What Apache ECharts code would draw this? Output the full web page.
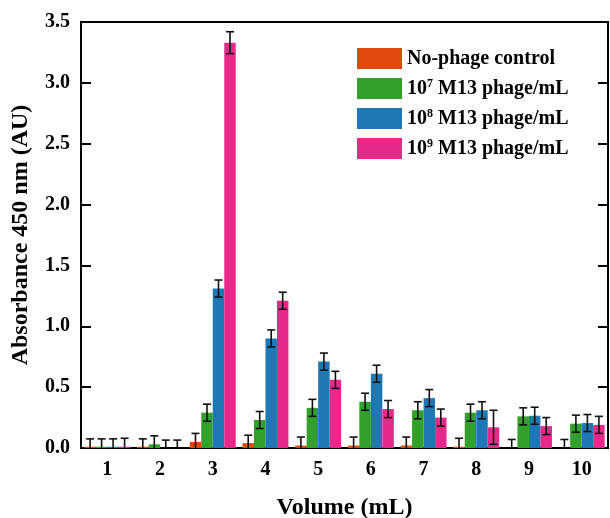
<!DOCTYPE html>
<html><head><meta charset="utf-8">
<script src="https://cdn.jsdelivr.net/npm/echarts@6/dist/echarts.min.js"></script>
<style>html,body{margin:0;padding:0;background:#fff}#c{width:610px;height:518px}</style>
</head><body><div id="c"></div>
<script>
var categories = ['1','2','3','4','5','6','7','8','9','10'];
var seriesNames = ['No-phage control','10^7 M13 phage/mL','10^8 M13 phage/mL','10^9 M13 phage/mL'];
var noPhage   = [0.01,0.01,0.05,0.04,0.02,0.02,0.02,0.01,0.00,0.00];
var phage1e7  = [0.01,0.03,0.29,0.23,0.33,0.38,0.31,0.29,0.26,0.20];
var phage1e8  = [0.01,0.00,1.31,0.90,0.71,0.61,0.41,0.31,0.265,0.205];
var phage1e9  = [0.01,0.00,3.33,1.21,0.56,0.32,0.25,0.17,0.18,0.19];
var errNoPhage  = [0.065,0.065,0.07,0.065,0.07,0.07,0.07,0.07,0.07,0.07];
var err1e7      = [0.065,0.07,0.07,0.07,0.07,0.07,0.07,0.07,0.07,0.07];
var err1e8      = [0.065,0.065,0.07,0.07,0.07,0.07,0.07,0.07,0.07,0.07];
var err1e9      = [0.07,0.065,0.09,0.07,0.07,0.07,0.07,0.14,0.07,0.07];
var yTicks = ['0.0','0.5','1.0','1.5','2.0','2.5','3.0','3.5'];

var colors = ['#e0480c','#33a02c','#1f78b4','#e7298a'];
var values = [noPhage, phage1e7, phage1e8, phage1e9];
var errors = [errNoPhage, err1e7, err1e8, err1e9];
var BW = 11.5;
var FONT = '"Liberation Serif","Times New Roman",serif';

var series = [];
values.forEach(function(v, i){
  series.push({
    name: seriesNames[i], type: 'bar', data: v, barWidth: BW, barGap: '0%',
    itemStyle: { color: colors[i] }, z: 2
  });
});
values.forEach(function(v, i){
  series.push({
    type: 'custom', silent: true, z: 5,
    data: v.map(function(val, k){ return [k, val, errors[i][k]]; }),
    renderItem: function(params, api){
      var k = api.value(0), val = api.value(1), e = api.value(2);
      var off = (i - 1.5) * BW;
      var top = api.coord([k, val + e]);
      var bot = api.coord([k, Math.max(0, val - e)]);
      var x = top[0] + off;
      var cw = 4;
      var st = { stroke: '#111', lineWidth: 1.6 };
      var children = [
        { type:'line', shape:{x1:x,y1:top[1],x2:x,y2:bot[1]}, style:st },
        { type:'line', shape:{x1:x-cw,y1:top[1],x2:x+cw,y2:top[1]}, style:st }
      ];
      if (val - e > 0) children.push({ type:'line', shape:{x1:x-cw,y1:bot[1],x2:x+cw,y2:bot[1]}, style:st });
      return { type:'group', children: children };
    }
  });
});

function legendFmt(name){
  var m = name.match(/^10\^(\d) (.*)$/);
  if (m) return '10{sup|' + m[1] + '} ' + m[2];
  return name;
}

var chart = echarts.init(document.getElementById('c'), null, {renderer:'canvas'});
chart.setOption({
  animation: false,
  backgroundColor: '#fff',
  grid: { left: 81, right: 2, top: 22, bottom: 70, show: true, borderColor: '#000', borderWidth: 2,
          containLabel: false, outerBoundsMode: 'none' },
  legend: {
    data: seriesNames, orient: 'vertical', left: 357, top: 48, padding: 0,
    icon: 'rect', itemWidth: 45, itemHeight: 21, itemGap: 9,
    formatter: legendFmt,
    textStyle: {
      fontFamily: FONT, fontWeight: 'bold', fontSize: 20, color: '#000',
      rich: { sup: { fontFamily: FONT, fontWeight: 'bold', fontSize: 12, color: '#000', verticalAlign: 'top', padding: [0,0,9,0] } }
    }
  },
  xAxis: {
    type: 'category', data: categories,
    name: 'Volume (mL)', nameLocation: 'middle', nameGap: 48,
    nameTextStyle: { fontFamily: FONT, fontWeight: 'bold', fontSize: 24, color: '#000' },
    axisLine: { lineStyle: { color: '#000', width: 2 } },
    axisTick: { show: false },
    axisLabel: { fontFamily: FONT, fontWeight: 'bold', fontSize: 20, color: '#000', margin: 12 }
  },
  yAxis: [{
    type: 'value', min: 0, max: 3.5, interval: 0.5,
    name: 'Absorbance 450 nm (AU)', nameLocation: 'middle', nameGap: 48,
    nameTextStyle: { fontFamily: FONT, fontWeight: 'bold', fontSize: 24, color: '#000' },
    axisLine: { show: true, lineStyle: { color: '#000', width: 2 } },
    axisTick: { show: true, inside: true, length: 10, lineStyle: { color: '#000', width: 2 } },
    splitLine: { show: false },
    axisLabel: { fontFamily: FONT, fontWeight: 'bold', fontSize: 20, color: '#000', margin: 11,
      formatter: function(v){ return yTicks[Math.round(v / 0.5)]; } }
  },{
    type: 'value', min: 0, max: 3.5, interval: 0.5, position: 'right',
    axisLine: { show: true, lineStyle: { color: '#000', width: 2 } },
    axisTick: { show: true, inside: true, length: 10, lineStyle: { color: '#000', width: 2 } },
    axisLabel: { show: false }, splitLine: { show: false }
  }],
  series: series
});
</script></body></html>
